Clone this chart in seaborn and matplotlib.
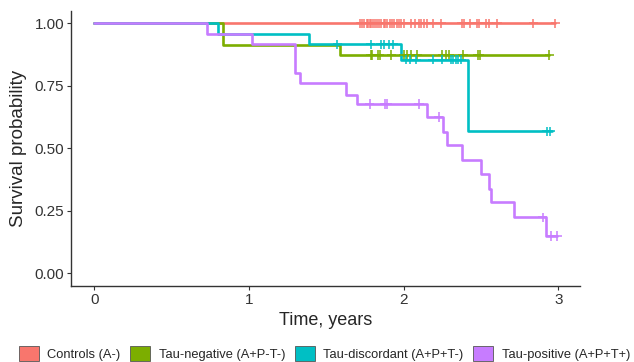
import numpy as np
import pandas as pd
import matplotlib
matplotlib.use('Agg')
import matplotlib.pyplot as plt
from matplotlib.patches import Patch
import seaborn as sns

# Kaplan-Meier curves: step times (years) and survival after each step
groups = ['Controls (A-)', 'Tau-negative (A+P-T-)', 'Tau-discordant (A+P+T-)', 'Tau-positive (A+P+T+)']
colors = ['#F8766D', '#7CAE00', '#00BFC4', '#C77CFF']

ctrl_t = [0.0, 2.98]
ctrl_s = [1.0, 1.0]
ctrl_cens = [1.72, 1.73, 1.745, 1.76, 1.77, 1.78, 1.79, 1.80, 1.815, 1.83, 1.84, 1.855, 1.87,
             1.88, 1.895, 1.91, 1.925, 1.94, 1.955, 1.97, 1.985, 2.0, 2.045, 2.07, 2.10, 2.115,
             2.13, 2.15, 2.187, 2.24, 2.374, 2.39, 2.428, 2.475, 2.488, 2.529, 2.55, 2.603,
             2.837, 2.98]

neg_t = [0.0, 0.835, 1.59, 2.94]
neg_s = [1.0, 0.913, 0.874, 0.874]
neg_cens = [1.787, 1.797, 1.832, 1.845, 1.921, 2.0, 2.02, 2.045, 2.088, 2.25, 2.271, 2.294,
            2.384, 2.477, 2.49, 2.94]

disc_t = [0.0, 0.80, 1.39, 1.985, 2.415, 2.96]
disc_s = [1.0, 0.956, 0.916, 0.855, 0.568, 0.568]
disc_cens = [1.572, 1.787, 1.852, 1.873, 1.905, 1.934, 2.015, 2.04, 2.08, 2.19, 2.25, 2.303,
             2.32, 2.335, 2.35, 2.37, 2.925, 2.945]

pos_t = [0.0, 0.728, 1.019, 1.30, 1.332, 1.624, 1.695, 2.148, 2.256, 2.282, 2.375, 2.498,
         2.552, 2.567, 2.714, 2.919, 2.99]
pos_s = [1.0, 0.956, 0.917, 0.80, 0.76, 0.715, 0.678, 0.625, 0.567, 0.512, 0.452, 0.396,
         0.339, 0.285, 0.225, 0.15, 0.15]
pos_cens = [1.779, 1.878, 1.894, 2.098, 2.226, 2.898, 2.955, 2.99]

curves = [(ctrl_t, ctrl_s, ctrl_cens), (neg_t, neg_s, neg_cens),
          (disc_t, disc_s, disc_cens), (pos_t, pos_s, pos_cens)]

steps = []
marks = []
for g, (t, s, c) in zip(groups, curves):
    steps.append(pd.DataFrame({'group': g, 'time': t, 'surv': s}))
    # survival level at each censor time = last step at or before it
    idx = np.searchsorted(t, c, side='right') - 1
    marks.append(pd.DataFrame({'group': g, 'time': c, 'surv': np.array(s)[idx]}))
steps = pd.concat(steps, ignore_index=True)
marks = pd.concat(marks, ignore_index=True)

sns.set_theme(style='ticks')
plt.rcParams['font.family'] = ['Liberation Sans', 'DejaVu Sans']

fig = plt.figure(figsize=(6.34, 3.62), dpi=100)
ax = fig.add_axes([0.112, 0.21, 0.803, 0.76])
palette = dict(zip(groups, colors))

sns.lineplot(data=steps, x='time', y='surv', hue='group', palette=palette,
             drawstyle='steps-post', estimator=None, sort=False, linewidth=1.9,
             legend=False, ax=ax)
sns.scatterplot(data=marks, x='time', y='surv', hue='group', palette=palette,
                marker='+', s=45, linewidth=1.1, legend=False, ax=ax, zorder=3)

ax.set_xlim(-0.15, 3.14)
ax.set_ylim(-0.05, 1.05)
ax.set_xticks([0, 1, 2, 3])
ax.set_yticks([0, 0.25, 0.5, 0.75, 1.0])
ax.set_yticklabels(['0.00', '0.25', '0.50', '0.75', '1.00'])
ax.tick_params(labelsize=11, length=3, width=0.8, pad=2, color='#333333', labelcolor='#333333')
ax.set_xlabel('Time, years', fontsize=13, labelpad=4)
ax.set_ylabel('Survival probability', fontsize=13.5, labelpad=5)
for side in ['left', 'bottom']:
    ax.spines[side].set_linewidth(1.0)
    ax.spines[side].set_color('#333333')
sns.despine(ax=ax)

handles = [Patch(facecolor=c, edgecolor='#555555', linewidth=0.6) for c in colors]
fig.legend(handles, groups, loc='lower center', bbox_to_anchor=(0.512, 0.0), ncol=4,
           frameon=False, fontsize=9.3, handlelength=1.55, handleheight=1.5,
           handletextpad=0.65, columnspacing=0.75, borderaxespad=0, borderpad=0.05)

fig.savefig('out.png', dpi=100)
